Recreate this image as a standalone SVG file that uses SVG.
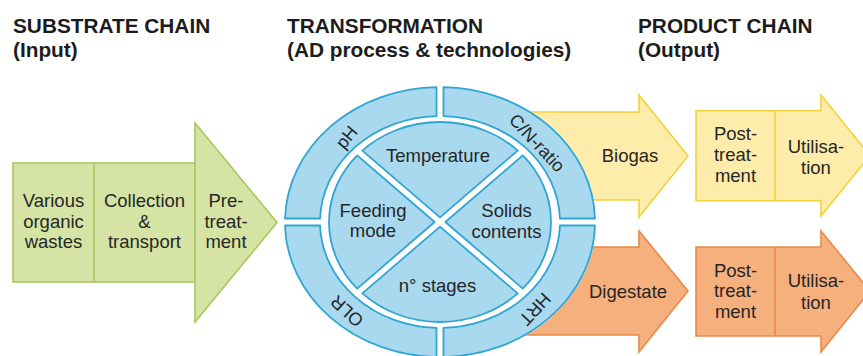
<svg xmlns="http://www.w3.org/2000/svg" width="863" height="356" viewBox="0 0 863 356">
  <style>
    .hdr { font-family: "Liberation Sans", Arial, sans-serif; font-weight: bold; font-size: 20.8px; fill: #1c1c1c; }
    .lbl { font-family: "Liberation Sans", Arial, sans-serif; font-size: 18.5px; fill: #262626; text-anchor: middle; }
    .ring-lbl { font-family: "Liberation Sans", Arial, sans-serif; font-size: 18px; fill: #262626; text-anchor: middle; }
    .green { fill: #d5e4a4; stroke: #a9c65c; stroke-width: 1.6; stroke-linejoin: miter; }
    .green-line { stroke: #a9c65c; stroke-width: 1.6; fill: none; }
    .yellow { fill: #fdecaa; stroke: #f0d23c; stroke-width: 1.6; }
    .yellow-line { stroke: #f0d23c; stroke-width: 1.6; fill: none; }
    .orange { fill: #f5b07e; stroke: #e8894a; stroke-width: 1.6; }
    .orange-line { stroke: #e8894a; stroke-width: 1.6; fill: none; }
    .blue { fill: #a9d9ef; stroke: #2ea5d2; stroke-width: 1.8; stroke-linejoin: round; }
  </style>

  <rect width="863" height="356" fill="#ffffff"/>

  <!-- column headings -->
  <g id="headers">
    <text class="hdr" x="13" y="33.3">SUBSTRATE CHAIN</text>
    <text class="hdr" x="13" y="56.7">(Input)</text>
    <text class="hdr" x="287" y="33.3">TRANSFORMATION</text>
    <text class="hdr" x="287" y="56.7">(AD process &amp; technologies)</text>
    <text class="hdr" x="638" y="33.3">PRODUCT CHAIN</text>
    <text class="hdr" x="638" y="56.7">(Output)</text>
  </g>

  <!-- input chain: wastes, collection, pre-treatment -->
  <g id="substrate-chain">
    <rect class="green" x="13" y="163" width="182" height="119"/>
    <line class="green-line" x1="94" y1="163" x2="94" y2="282"/>
    <polygon class="green" points="195,123 277,222.5 195,322"/>
    <text class="lbl" x="53.5" y="207">Various</text>
    <text class="lbl" x="53.5" y="227.5">organic</text>
    <text class="lbl" x="53.5" y="248">wastes</text>
    <text class="lbl" x="144.5" y="207">Collection</text>
    <text class="lbl" x="144.5" y="227.5">&amp;</text>
    <text class="lbl" x="144.5" y="248">transport</text>
    <text class="lbl" x="226" y="207">Pre-</text>
    <text class="lbl" x="226" y="227.5">treat-</text>
    <text class="lbl" x="226" y="248">ment</text>
  </g>

  <!-- products leaving the digester (drawn under the wheel) -->
  <g id="biogas">
    <polygon class="yellow" points="520,112 639,112 639,95 688,156 639,217 639,200 520,200"/>
    <text class="lbl" x="630" y="162">Biogas</text>
  </g>
  <g id="digestate">
    <polygon class="orange" points="520,247 639,247 639,231 688,291 639,352 639,335 520,335"/>
    <text class="lbl" x="628" y="297.5">Digestate</text>
  </g>

  <!-- AD process wheel -->
  <g id="ad-wheel">
    <ellipse cx="440" cy="222" rx="156" ry="136" fill="#ffffff"/>

    <g id="ring-ph">
      <path class="blue" d="M436.5,87.03 A155,135 0 0 0 285.05,218.5 L320.07,218.5 A120,106 0 0 1 436.5,116.05 Z"/>
      <text class="ring-lbl" transform="translate(346.7,137.3) rotate(-50)" y="6">pH</text>
    </g>
    <g id="ring-cn">
      <path class="blue" d="M443.5,87.03 A155,135 0 0 1 594.95,218.5 L559.93,218.5 A120,106 0 0 0 443.5,116.05 Z"/>
      <text class="ring-lbl" transform="translate(537,143) rotate(47)" y="6">C/N-ratio</text>
    </g>
    <g id="ring-olr">
      <path class="blue" d="M436.5,356.97 A155,135 0 0 1 285.05,225.5 L320.07,225.5 A120,106 0 0 0 436.5,327.95 Z"/>
      <text class="ring-lbl" transform="translate(347,311) rotate(-138)" y="6">OLR</text>
    </g>
    <g id="ring-hrt">
      <path class="blue" d="M443.5,356.97 A155,135 0 0 0 594.95,225.5 L559.93,225.5 A120,106 0 0 1 443.5,327.95 Z"/>
      <text class="ring-lbl" transform="translate(535,309) rotate(133)" y="6">HRT</text>
    </g>

    <g id="sector-temperature">
      <path class="blue" d="M440,217.38 L517.67,150.57 A111,100 0 0 0 362.33,150.57 Z"/>
      <text class="lbl" x="438" y="162">Temperature</text>
    </g>
    <g id="sector-feeding">
      <path class="blue" d="M434.63,222 L357.2,155.4 A111,100 0 0 0 357.2,288.6 Z"/>
      <text class="lbl" x="373" y="217">Feeding</text>
      <text class="lbl" x="373" y="237">mode</text>
    </g>
    <g id="sector-solids">
      <path class="blue" d="M445.37,222 L522.8,155.4 A111,100 0 0 1 522.8,288.6 Z"/>
      <text class="lbl" x="506.5" y="217">Solids</text>
      <text class="lbl" x="506.5" y="238">contents</text>
    </g>
    <g id="sector-stages">
      <path class="blue" d="M440,226.62 L517.67,293.43 A111,100 0 0 1 362.33,293.43 Z"/>
      <text class="lbl" x="437.5" y="292">n° stages</text>
    </g>
  </g>

  <!-- output chains -->
  <g id="biogas-output">
    <polygon class="yellow" points="696,110.7 821,110.7 821,95 870,155.7 821,216 821,200.7 696,200.7"/>
    <line class="yellow-line" x1="775" y1="110.7" x2="775" y2="200.7"/>
    <text class="lbl" x="735.5" y="140">Post-</text>
    <text class="lbl" x="735.5" y="161">treat-</text>
    <text class="lbl" x="735.5" y="182">ment</text>
    <text class="lbl" x="816" y="152.5">Utilisa-</text>
    <text class="lbl" x="816" y="173.5">tion</text>
  </g>
  <g id="digestate-output">
    <polygon class="orange" points="696,247 821,247 821,231 870,291 821,352 821,336 696,336"/>
    <line class="orange-line" x1="775" y1="247" x2="775" y2="336"/>
    <text class="lbl" x="735.5" y="276.5">Post-</text>
    <text class="lbl" x="735.5" y="297">treat-</text>
    <text class="lbl" x="735.5" y="317.5">ment</text>
    <text class="lbl" x="816" y="287">Utilisa-</text>
    <text class="lbl" x="816" y="308.5">tion</text>
  </g>
</svg>
